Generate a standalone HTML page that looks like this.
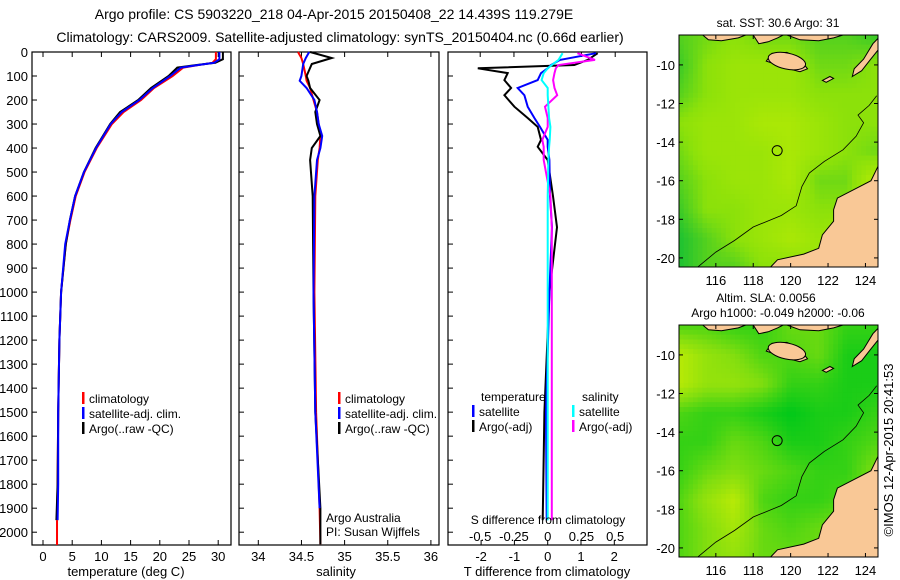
<!DOCTYPE html>
<html><head><meta charset="utf-8"><style>
body{margin:0;background:#fff;}
svg{display:block;font-family:"Liberation Sans",sans-serif;}
</style></head><body>
<svg id="fig" width="900" height="580" viewBox="0 0 900 580" xmlns="http://www.w3.org/2000/svg">
<rect width="900" height="580" fill="#fff"/>
<text x="334" y="19" font-size="14" text-anchor="middle">Argo profile: CS 5903220_218 04-Apr-2015 20150408_22 14.439S 119.279E</text>
<text x="340" y="42" font-size="14" text-anchor="middle">Climatology: CARS2009. Satellite-adjusted climatology: synTS_20150404.nc (0.66d earlier)</text>
<g id="p1"></g>
<g id="p2"></g>
<g id="p3"></g>
<g id="m1"></g>
<g id="m2"></g>
<text transform="translate(893,450) rotate(-90)" font-size="13" text-anchor="middle">©IMOS 12-Apr-2015 20:41:53</text>
</svg>
<script>
// ---- profile data (depth m) ----
const tDepth = [0,30,45,55,65,100,150,200,250,300,400,500,600,700,800,1000,1200,1500,1800,1950];
const tArgo  = [30.8,30.8,29.5,26,23,21.5,18.5,16.3,13.2,11.5,9.0,7.0,5.5,4.6,3.9,3.1,2.8,2.6,2.5,2.3];
const tClim  = [29.6,29.6,29.0,26.5,24,22.2,19.0,16.8,13.8,11.8,9.2,7.1,5.6,4.7,3.9,3.1,2.8,2.6,2.5,2.4];
const tSat   = [30.2,30.2,29.3,26.3,23.6,21.8,18.8,16.5,13.5,11.6,9.1,7.0,5.5,4.6,3.8,3.1,2.8,2.6,2.6,2.5];
const sDepth = [0,25,50,100,120,150,200,250,300,350,400,450,600,1000,1500,1900,2050];
const sArgo  = [34.6,34.85,34.62,34.56,34.58,34.6,34.71,34.66,34.68,34.72,34.62,34.6,34.63,34.64,34.66,34.72,34.72];
const sClim  = [34.46,34.5,34.52,34.55,34.56,34.6,34.64,34.68,34.7,34.72,34.71,34.69,34.66,34.65,34.67,34.71,34.72];
const sSat   = [34.59,34.55,34.52,34.5,34.48,34.56,34.65,34.68,34.7,34.74,34.72,34.68,34.65,34.64,34.66,34.71,34.72];
// ---- differences ----
const dDepth = [5,33,54,68,88,117,150,180,228,275,312,366,395,450,600,730,1000,1500,1950];
const dTArgo = [1.5,1.2,0.8,-2.1,-1.2,-1.3,-1.1,-1.3,-1.0,-0.6,-0.3,-0.2,-0.3,0,0.16,0.28,0.05,-0.1,-0.15];
const dTSat  = [1.45,0.37,0.1,0,-0.2,-0.3,-0.9,-0.7,-0.6,-0.4,-0.23,0,0,0.05,0.07,0.13,0.05,-0.05,-0.03];
const dSSat  = [0.11,0.08,0.03,0.0,-0.03,-0.045,0,0.0,0.005,0.01,0.02,0.015,0.01,0.005,0,0,0,0,0];
const dSArgo = [0.22,0.35,0.08,0.06,0.05,0.04,0.05,0.07,-0.02,0,0,-0.04,-0.03,-0.03,0.02,0.03,0.03,0.03,0.03];
// ---- map grids (0 = green, 1 = yellow), rows north->south lat -8.5..-20.5, cols lon 114..124.5 ----
const sstGrid = [
[0.3,0.4,0.5,0.4,0.4,0.3,0.3,0.2],
[0.2,0.5,0.6,0.6,0.6,0.4,0.4,0.5],
[0.3,0.5,0.6,0.6,0.6,0.5,0.5,0.5],
[0.5,0.6,0.6,0.7,0.7,0.6,0.5,0.5],
[0.4,0.6,0.6,0.6,0.7,0.6,0.5,0.4],
[0.3,0.5,0.6,0.6,0.7,0.4,0.4,0.8],
[0.2,0.5,0.5,0.6,0.6,0.5,0.5,0.7],
[0.1,0.3,0.5,0.6,0.7,0.6,0.7,0.7],
[0.1,0.3,0.3,0.5,0.5,0.6,0.7,0.7]];
const slaGrid = [
[0.3,0.3,0.2,0.2,0.4,0.4,0.2,0.2],
[0.8,0.6,0.5,0.3,0.3,0.4,0.1,0.1],
[0.8,0.6,0.6,0.5,0.2,0.2,0.1,0.1],
[0.3,0.2,0.2,0.1,0.0,0.1,0.1,0.2],
[0.2,0.2,0.4,0.3,0.1,0.1,0.2,0.3],
[0.2,0.4,0.5,0.4,0.3,0.2,0.2,0.5],
[0.3,0.6,0.8,0.3,0.2,0.2,0.3,0.4],
[0.3,0.5,0.7,0.4,0.3,0.4,0.5,0.5],
[0.3,0.5,0.6,0.4,0.4,0.4,0.5,0.5]];
const depthTicks = [0,100,200,300,400,500,600,700,800,900,1000,1100,1200,1300,1400,1500,1600,1700,1800,1900,2000];
const tTicks = [0,5,10,15,20,25,30];
const sTicks = [34,34.5,35,35.5,36];
const sTickLabels = ["34","34.5","35","35.5","36"];
const dTTicks = [-2,-1,0,1,2];
const dSTicks = [-0.5,-0.25,0,0.25,0.5];
const dSTickLabels = ["-0.5","-0.25","0","0.25","0.5"];
const latTicks = [-10,-12,-14,-16,-18,-20];
const lonTicks = [116,118,120,122,124];

const NS="http://www.w3.org/2000/svg";
function mk(parent,tag,attrs,name){const e=document.createElementNS(NS,tag);for(const k in attrs)e.setAttribute(k,attrs[k]);


parent.appendChild(e);return e;}
const yTop=52,yBot=545;
const yD=d=>yTop+d*0.2401;
function line(g,xs,ds,fx,col,name,w){let p=xs.map((v,i)=>fx(v).toFixed(1)+","+yD(ds[i]).toFixed(1)).join(" ");
mk(g,"polyline",{points:p,fill:"none",stroke:col,"stroke-width":w||2},name);}
function frame(g,x0,x1){mk(g,"rect",{x:x0,y:yTop,width:x1-x0,height:yBot-yTop,fill:"none",stroke:"#000","stroke-width":1.2},"plot-frame");}
function xticks(g,ticks,labels,fx,y,top){ticks.forEach((t,i)=>{const x=fx(t);
mk(g,"line",{x1:x,x2:x,y1:yBot,y2:yBot-5,stroke:"#000"},"x-tick");
if(top)mk(g,"line",{x1:x,x2:x,y1:yTop,y2:yTop+5,stroke:"#000"},"x-tick-top");
const t2=mk(g,"text",{x:x,y:y,"font-size":13,"text-anchor":"middle"},"x-tick-label");t2.textContent=labels[i];});}
function legend(g,x,y,items){items.forEach((it,i)=>{mk(g,"rect",{x:x,y:y+i*15-11,width:2.5,height:12,fill:it[0]},"legend-swatch");
const t=mk(g,"text",{x:x+7,y:y+i*15,"font-size":12},"legend-entry");t.textContent=it[1];});}

// Panel 1
const g1=document.getElementById('p1');
const fT=v=>43+v*5.84;
frame(g1,32,231);
depthTicks.forEach(d=>{const y=yD(d);mk(g1,"line",{x1:32,x2:37,y1:y,y2:y,stroke:"#000"},"y-tick");
const t=mk(g1,"text",{x:28,y:y+5,"font-size":13,"text-anchor":"end"},"y-tick-label");t.textContent=d;});
xticks(g1,tTicks,tTicks.map(String),fT,561,true);
line(g1,tClim,tDepth,fT,"#f00","temperature-climatology-line");
line(g1,tArgo,tDepth,fT,"#000","temperature-argo-line");
line(g1,tSat,tDepth,fT,"#00f","temperature-satellite-line");
mk(g1,"line",{x1:fT(2.4),x2:fT(2.4),y1:yD(1950),y2:yBot,stroke:"#f00","stroke-width":2},"temperature-clim-bottom");
legend(g1,82,403,[["#f00","climatology"],["#00f","satellite-adj. clim."],["#000","Argo(..raw -QC)"]]);
let tx=mk(g1,"text",{x:126,y:576,"font-size":13,"text-anchor":"middle"},"x-axis-title");tx.textContent="temperature (deg C)";

// Panel 2
const g2=document.getElementById('p2');
const fS=v=>258.3+(v-34)*86.3;
frame(g2,239,439);
depthTicks.forEach(d=>{const y=yD(d);mk(g2,"line",{x1:239,x2:244,y1:y,y2:y,stroke:"#000"},"y-tick");});
xticks(g2,sTicks,sTickLabels,fS,561,true);
line(g2,sClim,sDepth,fS,"#f00","salinity-climatology-line");
line(g2,sArgo,sDepth,fS,"#000","salinity-argo-line");
line(g2,sSat.slice(0,16),sDepth.slice(0,16),fS,"#00f","salinity-satellite-line");
legend(g2,338,403,[["#f00","climatology"],["#00f","satellite-adj. clim."],["#000","Argo(..raw -QC)"]]);
let t2=mk(g2,"text",{x:326,y:522,"font-size":12},"argo-australia-label");t2.textContent="Argo Australia";
t2=mk(g2,"text",{x:326,y:536,"font-size":12},"pi-label");t2.textContent="PI: Susan Wijffels";
tx=mk(g2,"text",{x:336,y:576,"font-size":13,"text-anchor":"middle"},"x-axis-title");tx.textContent="salinity";

// Panel 3
const g3=document.getElementById('p3');
const fDT=v=>547.7+v*33.3, fDS=v=>547.7+v*135;
frame(g3,448,647);
depthTicks.forEach(d=>{const y=yD(d);mk(g3,"line",{x1:448,x2:453,y1:y,y2:y,stroke:"#000"},"y-tick");});
xticks(g3,dTTicks,dTTicks.map(String),fDT,561,false);
dSTicks.forEach((t,i)=>{const x=fDS(t);mk(g3,"line",{x1:x,x2:x,y1:yTop,y2:yTop+5,stroke:"#000"},"s-tick-top");
const tt=mk(g3,"text",{x:x,y:541,"font-size":13,"text-anchor":"middle"},"s-tick-label");tt.textContent=dSTickLabels[i];});
line(g3,dTArgo,dDepth,fDT,"#000","t-diff-argo-line");
line(g3,dTSat,dDepth,fDT,"#00f","t-diff-satellite-line");
line(g3,dSArgo,dDepth,fDS,"#f0f","s-diff-argo-line");
line(g3,dSSat,dDepth,fDS,"#0ff","s-diff-satellite-line");
let tl=mk(g3,"text",{x:481,y:401,"font-size":12},"legend-temperature-header");tl.textContent="temperature";
tl=mk(g3,"text",{x:582,y:401,"font-size":12},"legend-salinity-header");tl.textContent="salinity";
legend(g3,472,416,[["#00f","satellite"],["#000","Argo(-adj)"]]);
legend(g3,572,416,[["#0ff","satellite"],["#f0f","Argo(-adj)"]]);
tl=mk(g3,"text",{x:548,y:524,"font-size":12,"text-anchor":"middle"},"s-axis-title");tl.textContent="S difference from climatology";
tx=mk(g3,"text",{x:547,y:576,"font-size":13,"text-anchor":"middle"},"x-axis-title");tx.textContent="T difference from climatology";

// Maps
function interp(grid,lon,lat){let fc=(lon-114)/1.5, fr=(-8.5-lat)/1.5;
fc=Math.max(0,Math.min(6.999,fc));fr=Math.max(0,Math.min(7.999,fr));
const c=Math.floor(fc),r=Math.floor(fr),a=fc-c,b=fr-r;
return grid[r][c]*(1-a)*(1-b)+grid[r][c+1]*a*(1-b)+grid[r+1][c]*(1-a)*b+grid[r+1][c+1]*a*b;}
function col(v,g0,c1,c2){
let a,b,t;if(v<0.5){a=g0;b=c1;t=v/0.5;}else{a=c1;b=c2;t=(v-0.5)/0.5;}
return "rgb("+a.map((x,i)=>Math.round(x+(b[i]-x)*t)).join(",")+")";}
const aus=[[124.7,-15.2],[124.3,-16.0],[123.5,-16.4],[122.5,-16.9],[122.3,-17.5],[122.3,-18.1],[121.7,-18.8],[121.5,-19.5],[120.7,-19.8],[119.3,-20.1],[118.8,-20.6],[124.7,-20.6]];
const sumba=[[118.7,-9.8],[119.0,-9.4],[119.8,-9.35],[120.5,-9.7],[120.9,-10.2],[120.5,-10.35],[119.9,-10.2],[119.3,-10.0]];
const timor=[[123.3,-10.6],[123.8,-10.3],[124.2,-9.8],[124.7,-9.2],[124.7,-8.6],[124.4,-8.9],[123.9,-9.7],[123.4,-10.2]];
const flores=[[115.3,-8.45],[115.6,-8.7],[116.3,-8.75],[117.2,-8.6],[117.6,-8.45]];
const flores2=[[118.0,-8.45],[118.3,-8.9],[118.8,-8.8],[119.3,-8.6],[119.6,-8.45]];
const flores3=[[119.8,-8.45],[120.5,-8.7],[121.5,-8.75],[122.3,-8.6],[122.8,-8.45]];
const roti=[[121.7,-10.8],[122.1,-10.6],[122.3,-10.7],[121.9,-10.9]];
const contour=[[115,-20.5],[116,-19.7],[117,-19.1],[118,-18.4],[119.5,-17.8],[120.3,-17.3],[120.6,-16.3],[121.0,-15.6],[121.8,-15.0],[122.8,-14.4],[123.5,-13.7],[123.9,-13.0],[123.6,-12.6],[124.2,-12.1],[124.6,-11.6]];
function drawMap(id,grid,g0,c1,c2,y0,titles){const g=document.getElementById(id);
const fx=lon=>679+(lon-114.03)*18.7, fy=lat=>y0+(-8.45-lat)*19.3;
const cs=0.25;
for(let lat=-8.45;lat>-20.5;lat-=cs){for(let lon=114.03;lon<124.7;lon+=cs){
const v=interp(grid,lon+cs/2,lat-cs/2);
mk(g,"rect",{x:fx(lon).toFixed(1),y:fy(lat).toFixed(1),width:(cs*18.7+0.6).toFixed(1),height:(cs*19.3+0.6).toFixed(1),fill:col(v,g0,c1,c2)},"map-cell");}}
const pts=a=>a.map(p=>fx(p[0]).toFixed(1)+","+fy(p[1]).toFixed(1)).join(" ");
[aus,sumba,timor,roti].forEach(s=>mk(g,"polygon",{points:pts(s),fill:"#f9c896",stroke:"#000","stroke-width":1},"land"));
mk(g,"ellipse",{cx:fx(119.8),cy:fy(-9.8),rx:19,ry:8,fill:"#f9c896",stroke:"#000","stroke-width":1,transform:"rotate(12 "+fx(119.8)+" "+fy(-9.8)+")"},"sumba-island");
[flores,flores2,flores3].forEach(s=>mk(g,"polygon",{points:pts(s),fill:"#f9c896",stroke:"#000","stroke-width":1},"land-north"));
mk(g,"polyline",{points:pts(contour),fill:"none",stroke:"#000","stroke-width":0.8},"bathymetry-contour");
mk(g,"circle",{cx:fx(119.28),cy:fy(-14.44),r:5,fill:"none",stroke:"#000","stroke-width":1},"argo-position-marker");
mk(g,"rect",{x:878.5,y:y0-2,width:21.5,height:236,fill:"#fff"},"map-right-mask");
mk(g,"rect",{x:676,y:y0+232.5,width:224,height:20,fill:"#fff"},"map-bottom-mask");
mk(g,"rect",{x:679,y:y0,width:199,height:232,fill:"none",stroke:"#000","stroke-width":1},"map-frame");
latTicks.forEach(l=>{const y=fy(l);mk(g,"line",{x1:679,x2:683,y1:y,y2:y,stroke:"#000"},"lat-tick");mk(g,"line",{x1:874,x2:878,y1:y,y2:y,stroke:"#000"},"lat-tick");
const t=mk(g,"text",{x:675,y:y+5,"font-size":13,"text-anchor":"end"},"lat-tick-label");t.textContent=l;});
lonTicks.forEach(l=>{const x=fx(l);mk(g,"line",{x1:x,x2:x,y1:y0,y2:y0+4,stroke:"#000"},"lon-tick");mk(g,"line",{x1:x,x2:x,y1:y0+228,y2:y0+232,stroke:"#000"},"lon-tick");
const t=mk(g,"text",{x:x,y:y0+250,"font-size":13,"text-anchor":"middle"},"lon-tick-label");t.textContent=l;});
titles.forEach(s=>{const t=mk(g,"text",{x:s[1],y:s[2],"font-size":12,"text-anchor":"middle"},"map-title");t.textContent=s[0];});}
drawMap("m1",sstGrid,[0,185,60],[140,225,10],[215,242,0],35,[["sat. SST: 30.6 Argo: 31",778,27]]);
drawMap("m2",slaGrid,[0,200,25],[130,222,15],[220,242,0],325,[["Altim. SLA: 0.0056",766,302],["Argo h1000: -0.049 h2000: -0.06",778,317]]);
</script>
</body></html>
